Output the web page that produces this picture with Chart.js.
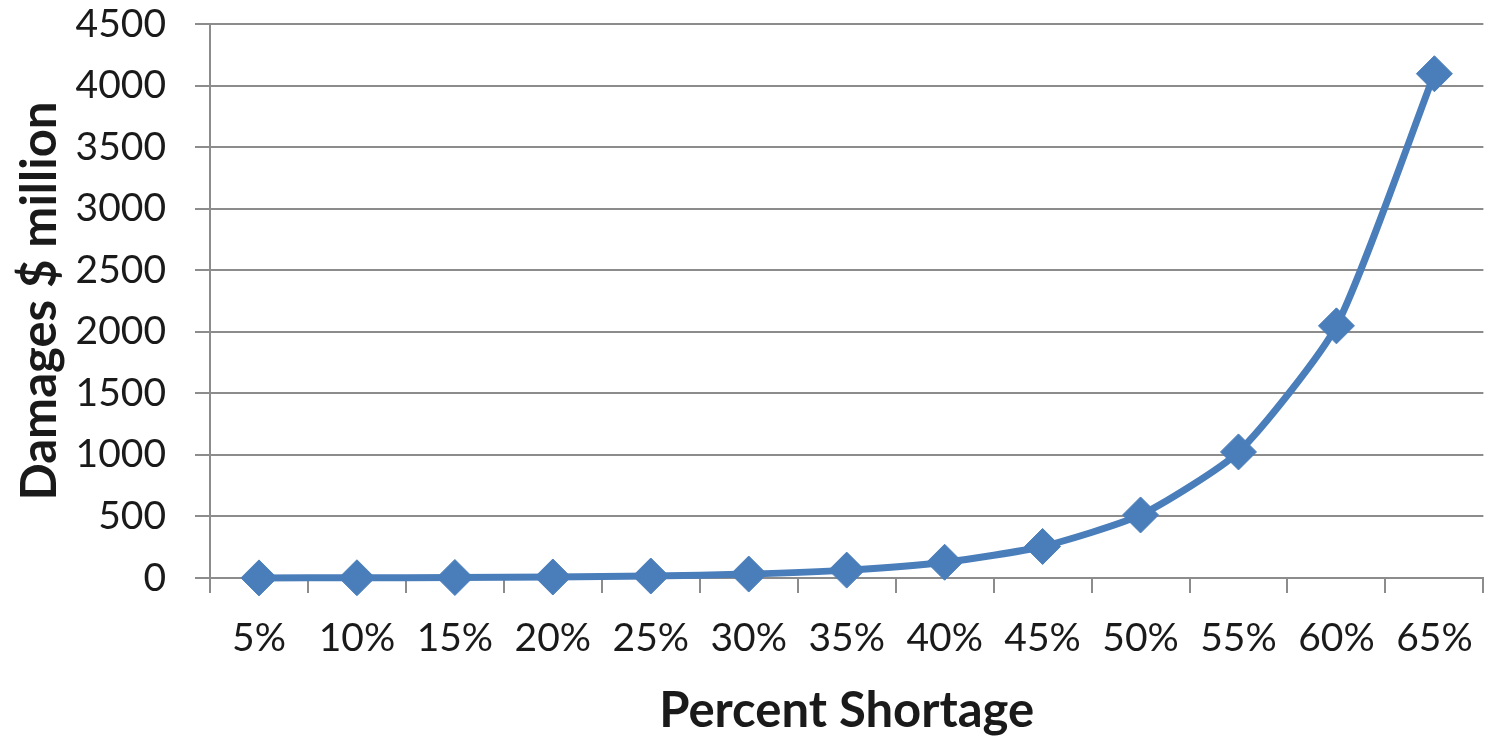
<!DOCTYPE html>
<html>
<head>
<meta charset="utf-8">
<script src="https://cdn.jsdelivr.net/npm/chart.js@4/dist/chart.umd.min.js"></script>
<style>
  html, body { margin: 0; padding: 0; background: #ffffff; }
  #wrap { width: 1499px; height: 737px; position: relative; }
</style>
</head>
<body>
<div id="wrap"><canvas id="chart"></canvas></div>
<script>
// Shortage levels and the damages they cause ($ million)
const categories = ['5%', '10%', '15%', '20%', '25%', '30%', '35%', '40%', '45%', '50%', '55%', '60%', '65%'];
const damages = [1, 2, 4, 8, 16, 32, 64, 128, 256, 512, 1024, 2048, 4096];
const yTicks = [0, 500, 1000, 1500, 2000, 2500, 3000, 3500, 4000, 4500];

const lineColor = '#4A7EBB';
const gridColor = '#8C8C8C';
const textColor = '#1A1A1A';
const fontFamily = 'Lato, "Open Sans", sans-serif';

new Chart(document.getElementById('chart'), {
  type: 'line',
  data: {
    labels: categories,
    datasets: [{
      label: 'Damages',
      data: damages,
      borderColor: lineColor,
      backgroundColor: lineColor,
      borderWidth: 7,
      tension: 0.2,
      clip: false,
      pointStyle: 'rectRot',
      pointRadius: 18,
      pointHoverRadius: 18,
      pointBorderWidth: 1,
      pointBorderColor: lineColor,
      pointBackgroundColor: lineColor
    }]
  },
  options: {
    responsive: true,
    maintainAspectRatio: false,
    animation: false,
    events: [],
    layout: { autoPadding: false, padding: { left: 0, right: 9, top: 24, bottom: 0 } },
    plugins: {
      legend: { display: false },
      tooltip: { enabled: false }
    },
    scales: {
      x: {
        type: 'category',
        offset: true,
        grid: {
          offset: true,
          drawOnChartArea: false,
          drawTicks: true,
          tickLength: 15,
          color: gridColor,
          lineWidth: 2
        },
        border: { display: true, color: gridColor, width: 2 },
        ticks: {
          color: textColor,
          padding: 26,
          maxRotation: 0,
          autoSkip: false,
          font: { family: fontFamily, size: 39, lineHeight: 1 }
        },
        title: {
          display: true,
          text: 'Percent Shortage',
          color: textColor,
          padding: { top: 0, bottom: 1 },
          font: { family: fontFamily, size: 49, weight: 'bold', lineHeight: 1 }
        },
        afterFit: (scale) => { scale.height = 159; }
      },
      y: {
        min: 0,
        max: 4500,
        afterBuildTicks: (scale) => { scale.ticks = yTicks.map(v => ({ value: v })); },
        grid: {
          drawTicks: true,
          tickLength: 15,
          color: gridColor,
          lineWidth: 2
        },
        border: { display: true, color: gridColor, width: 2 },
        ticks: {
          color: textColor,
          padding: 29,
          callback: (value) => String(value),
          font: { family: fontFamily, size: 39, lineHeight: 1 }
        },
        title: {
          display: true,
          text: 'Damages $ million',
          color: textColor,
          padding: { top: 16, bottom: 0 },
          font: { family: fontFamily, size: 49, weight: 'bold', lineHeight: 1 }
        },
        afterFit: (scale) => {
          scale.width = 210;
          scale.paddingTop = 0;
          scale.paddingBottom = 0;
        }
      }
    }
  }
});
</script>
</body>
</html>
